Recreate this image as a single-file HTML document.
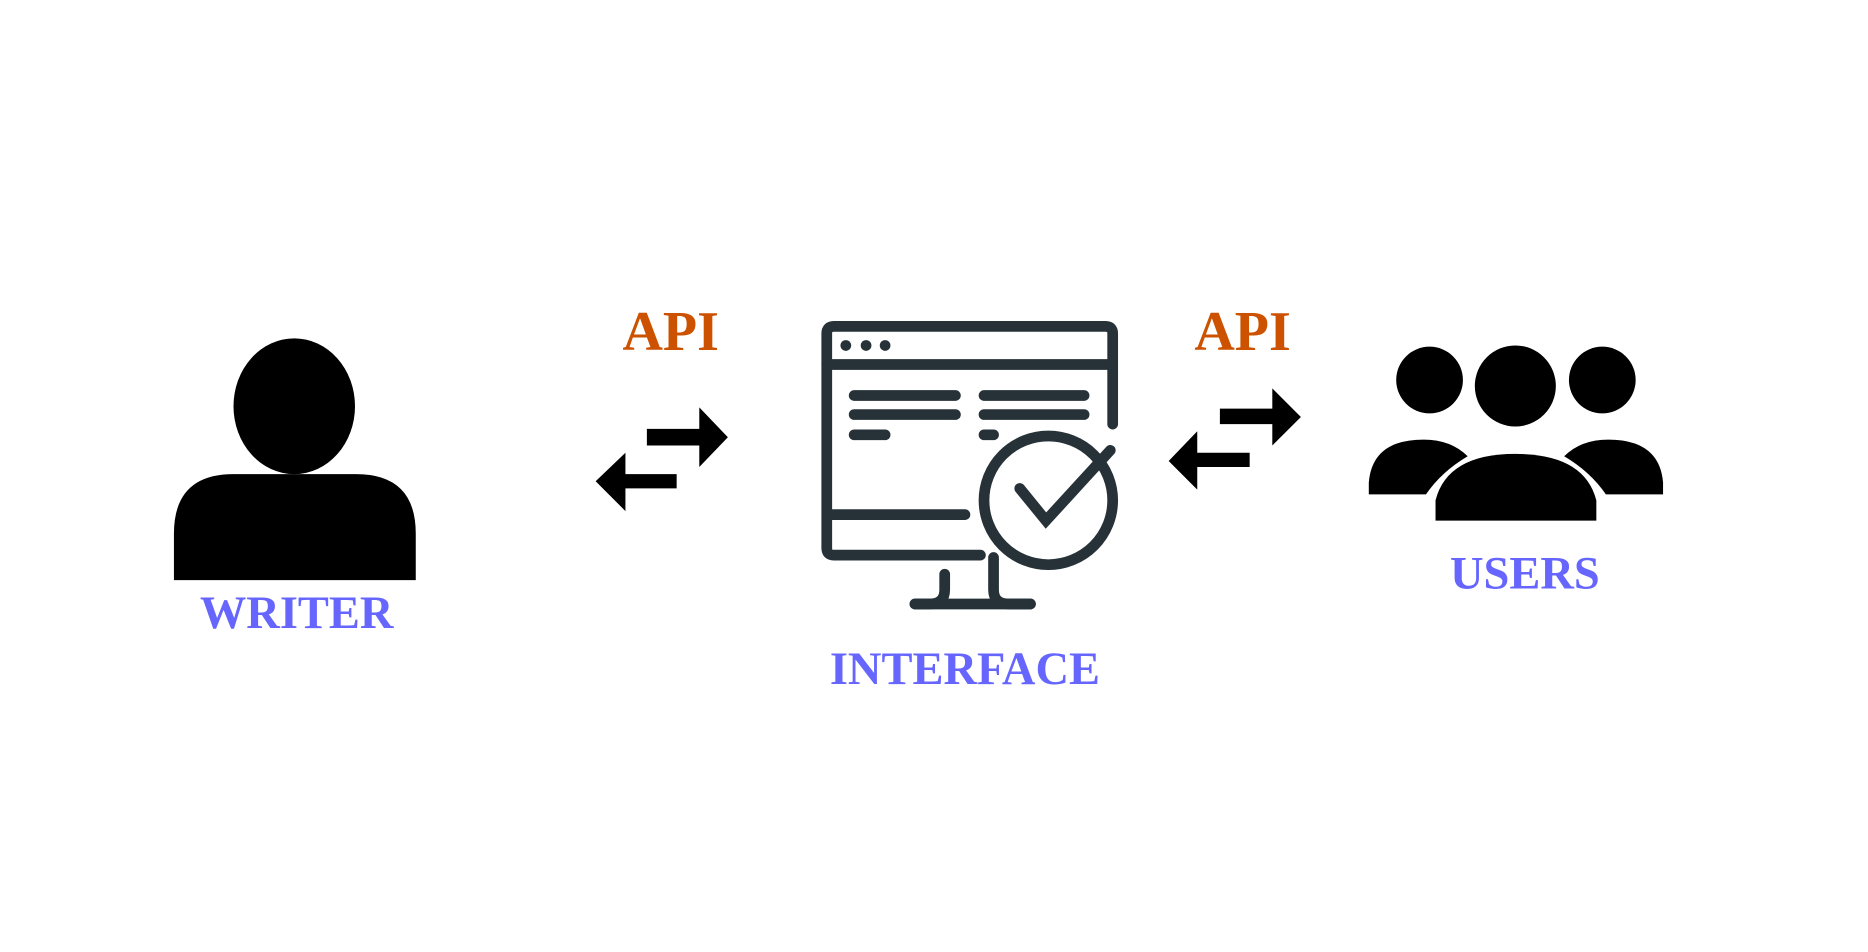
<!DOCTYPE html>
<html><head><style>
html,body{margin:0;padding:0;background:#fff;width:1868px;height:946px;overflow:hidden}
#w{position:absolute;left:0;top:0;width:1568px;height:794px;transform:scale(1.1913);transform-origin:0 0}
</style></head><body><div id="w">
<svg width="1568" height="794" viewBox="0 0 1568 794" font-family="Liberation Serif, serif" font-weight="bold" text-anchor="middle">
<!-- writer -->
<ellipse cx="247" cy="341" rx="51" ry="57" fill="#000"/>
<path d="M146 487 V448 Q146 398 196 398 H299 Q349 398 349 448 V487 Z" fill="#000"/>
<text x="249" y="527" font-size="39" fill="#6666ff" font-family="Liberation Serif, serif" font-weight="bold">WRITER</text>
<!-- API left -->
<text x="563" y="294" font-size="47" fill="#cc5200" font-family="Liberation Serif, serif" font-weight="bold">API</text>
<path d="M543 360 H587 V342 L611 367 L587 392 V374 H543 Z" fill="#000"/>
<path d="M568 398 H525 V380 L500 404 L525 429 V410 H568 Z" fill="#000"/>
<!-- API right -->
<text x="1043" y="294" font-size="47" fill="#cc5200" font-family="Liberation Serif, serif" font-weight="bold">API</text>
<path d="M1024 343 H1068 V326 L1092 350 L1068 374 V356 H1024 Z" fill="#000"/>
<path d="M1049 380 H1005 V362 L981 387 L1005 411 V392 H1049 Z" fill="#000"/>
<!-- monitor -->
<g fill="none" stroke="#263238" stroke-width="9" stroke-linecap="round">
<path d="M823 466 H700 Q694 466 694 460 V280 Q694 274 700 274 H928 Q934 274 934 280 V356"/>
<line x1="694" y1="306" x2="934" y2="306"/>
<line x1="717" y1="332" x2="802" y2="332"/><line x1="826" y1="332" x2="910" y2="332"/>
<line x1="717" y1="348" x2="802" y2="348"/><line x1="826" y1="348" x2="910" y2="348"/>
<line x1="717" y1="365" x2="743" y2="365"/><line x1="826" y1="365" x2="834" y2="365"/>
<line x1="698" y1="432" x2="810" y2="432"/>
<circle cx="880" cy="420" r="54"/>
<polyline points="856,410 878,437 932,378"/>
<path d="M793 482 V495 Q793 507 780 507 H768"/>
<path d="M834 468 V495 Q834 507 847 507 H865"/>
<line x1="768" y1="507" x2="865" y2="507"/>
</g>
<circle cx="710" cy="290" r="4.5" fill="#263238"/><circle cx="727" cy="290" r="4.5" fill="#263238"/><circle cx="743" cy="290" r="4.5" fill="#263238"/>
<text x="810" y="574" font-size="39" fill="#6666ff" font-family="Liberation Serif, serif" font-weight="bold">INTERFACE</text>
<!-- users -->
<circle cx="1200" cy="319" r="28" fill="#000"/>
<circle cx="1345" cy="319" r="28" fill="#000"/>
<circle cx="1272" cy="324" r="34" fill="#000"/>
<path d="M1149 415 V405 Q1152 369 1195 369 Q1218 369 1232 383 Q1210 396 1197 415 Z" fill="#000"/>
<path d="M1396 415 V405 Q1393 369 1350 369 Q1327 369 1313 383 Q1335 396 1348 415 Z" fill="#000"/>
<path d="M1205 437 V420 Q1215 381 1272 381 Q1330 381 1340 420 V437 Z" fill="#000"/>
<text x="1280" y="494" font-size="39" fill="#6666ff" font-family="Liberation Serif, serif" font-weight="bold">USERS</text>
</svg></div></body></html>
